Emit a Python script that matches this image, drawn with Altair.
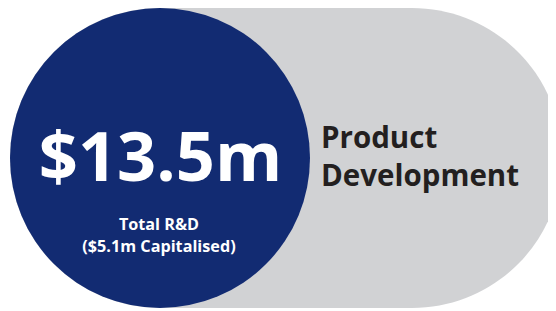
import altair as alt
import pandas as pd

# Content
headline = ["$13.5m"]
sublabels = ["Total R&D", "($5.1m Capitalised)"]
side_labels = ["Product", "Development"]

W, H = 540, 303
xs = alt.Scale(domain=[0, W], range=[0, W], zero=False, nice=False)
ys = alt.Scale(domain=[0, H], range=[0, H], zero=False, nice=False)
X = lambda f: alt.X(f, type="quantitative", scale=xs, axis=None)
Y = lambda f: alt.Y(f, type="quantitative", scale=ys, axis=None)

pill = alt.Chart(pd.DataFrame({"x": [2], "x2": [554], "y": [0], "y2": [300]})).mark_rect(
    color="#D1D2D4", cornerRadius=150
).encode(x=X("x"), x2="x2", y=Y("y"), y2="y2")

circle = alt.Chart(pd.DataFrame({"x": [152], "y": [150]})).mark_point(
    shape="circle", filled=True, size=90000, color="#122B72", opacity=1, strokeWidth=0
).encode(x=X("x"), y=Y("y"))

big = alt.Chart(pd.DataFrame({"t": headline, "x": [152.5], "y": [173]})).mark_text(
    font="Open Sans", fontWeight="bold", fontSize=68.5, color="white", baseline="alphabetic", align="center"
).encode(x=X("x"), y=Y("y"), text="t:N")

sub = alt.Chart(pd.DataFrame({"t": sublabels, "x": [151, 151], "y": [221.5, 243.5]})).mark_text(
    font="Open Sans", fontWeight="bold", fontSize=16.2, color="white", baseline="alphabetic", align="center"
).encode(x=X("x"), y=Y("y"), text="t:N")

side = alt.Chart(pd.DataFrame({"t": side_labels, "x": [313, 313], "y": [140, 178]})).mark_text(
    font="Open Sans", fontWeight="bold", fontSize=29.5, color="#231F20", baseline="alphabetic", align="left"
).encode(x=X("x"), y=Y("y"), text="t:N")

chart = alt.layer(pill, circle, big, sub, side).properties(
    width=W, height=H, padding=0, autosize=alt.AutoSizeParams(type="none")
).configure_view(stroke=None)

chart.save("out.html", embed_options={"renderer": "svg", "actions": False})
